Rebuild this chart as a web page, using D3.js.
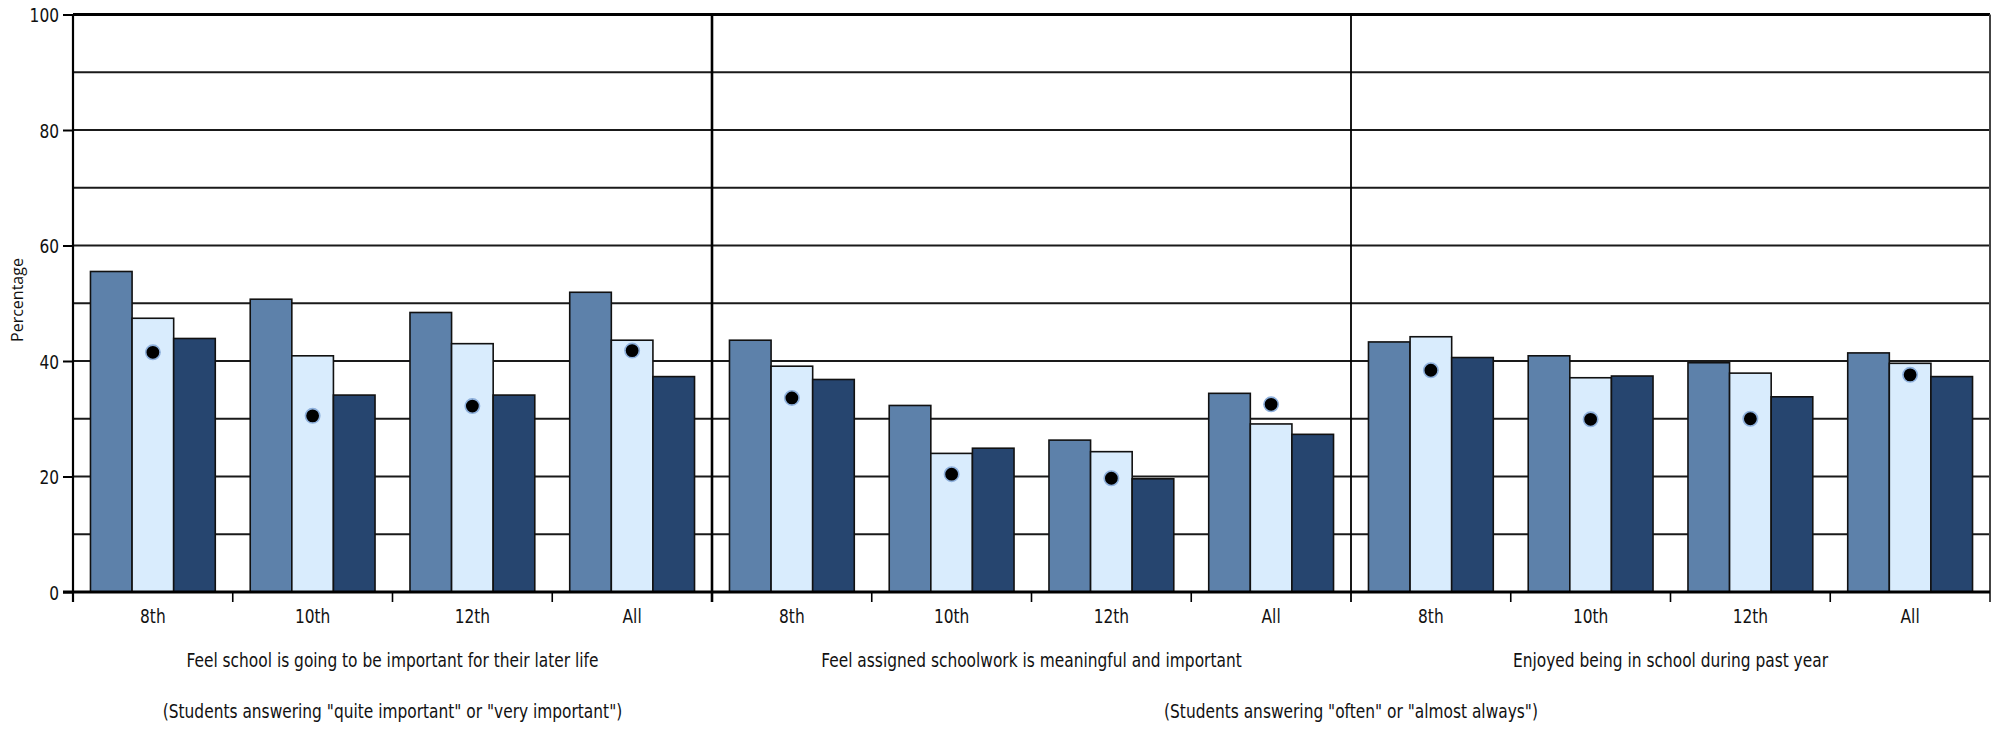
<!DOCTYPE html>
<html>
<head>
<meta charset="utf-8">
<script src="https://cdn.jsdelivr.net/npm/d3@7"></script>
<style>
  html, body { margin: 0; padding: 0; background: #fff; }
  svg { display: block; }
  .cond { font-family: "Liberation Sans Narrow", "DejaVu Sans Condensed", sans-serif; fill: #111; }
</style>
</head>
<body>
<svg id="chart" width="1999" height="731"></svg>
<script>
// ---- Data ----
const grades = ["8th", "10th", "12th", "All"];
const panelTitles = [
  "Feel school is going to be important for their later life",
  "Feel assigned schoolwork is meaningful and important",
  "Enjoyed being in school during past year"
];
const seriesNames = ["s1", "s2", "s3"];
const series1 = [55.5, 50.7, 48.4, 51.9, 43.6, 32.3, 26.3, 34.4, 43.3, 40.9, 39.7, 41.4];
const series2 = [47.4, 40.9, 43.0, 43.6, 39.1, 24.0, 24.3, 29.1, 44.2, 37.1, 37.9, 39.6];
const series3 = [43.9, 34.1, 34.1, 37.3, 36.8, 24.9, 19.6, 27.3, 40.6, 37.4, 33.8, 37.3];
const dotValues = [41.5, 30.5, 32.2, 41.8, 33.6, 20.4, 19.7, 32.5, 38.4, 29.9, 30.0, 37.6];
const yTickLabels = [0, 20, 40, 60, 80, 100];
const gridValues = [10, 20, 30, 40, 50, 60, 70, 80, 90];
const subtitle1 = '(Students answering "quite important" or "very important")';
const subtitle2 = '(Students answering "often" or "almost always")';
const yLabel = "Percentage";

(function () {
// ---- Layout ----
const mLeft = 73, mRight = 1990, mTop = 14.5, mBottom = 592;
const colors = { s1: "#5d81aa", s2: "#d9ecfd", s3: "#26456f" };
const fs = 20;

const svg = d3.select("#chart");

const groupKeys = [];
panelTitles.forEach((p, pi) => grades.forEach((g, gi) => groupKeys.push(pi + "-" + g)));

const x0 = d3.scaleBand().domain(groupKeys).range([mLeft, mRight]).padding(0);
const x1 = d3.scaleBand().domain(seriesNames).range([0, x0.bandwidth()]).paddingInner(0).paddingOuter(0.42);
const y = d3.scaleLinear().domain([0, 100]).range([mBottom, mTop]);

const panelX = d3.scaleBand().domain(panelTitles).range([mLeft, mRight]).padding(0);

// gridlines
svg.append("g").selectAll("line").data(gridValues).join("line")
  .attr("x1", mLeft).attr("x2", mRight)
  .attr("y1", d => y(d)).attr("y2", d => y(d))
  .attr("stroke", "#1a1a1a").attr("stroke-width", 2);

// top line
svg.append("line").attr("x1", mLeft).attr("x2", mRight)
  .attr("y1", y(100)).attr("y2", y(100))
  .attr("stroke", "#000").attr("stroke-width", 3);

// right border
svg.append("line").attr("x1", mRight).attr("x2", mRight)
  .attr("y1", y(100)).attr("y2", y(0) + 10)
  .attr("stroke", "#444").attr("stroke-width", 2);

// panel dividers
svg.append("g").selectAll("line").data(panelTitles.slice(1)).join("line")
  .attr("x1", d => panelX(d)).attr("x2", d => panelX(d))
  .attr("y1", y(100)).attr("y2", y(0) + 10)
  .attr("stroke", "#000").attr("stroke-width", (d, i) => i === 0 ? 2.6 : 1.8);

// bars
const allSeries = [series1, series2, series3];
const barData = [];
groupKeys.forEach((k, i) => {
  seriesNames.forEach((s, si) => barData.push({ key: k, s, v: allSeries[si][i] }));
});
svg.append("g").selectAll("rect").data(barData).join("rect")
  .attr("x", d => x0(d.key) + x1(d.s))
  .attr("width", x1.bandwidth())
  .attr("y", d => y(d.v))
  .attr("height", d => y(0) - y(d.v))
  .attr("fill", d => colors[d.s])
  .attr("stroke", "#111").attr("stroke-width", 1.6);

// dots
svg.append("g").selectAll("circle").data(groupKeys).join("circle")
  .attr("cx", d => x0(d) + x1("s2") + x1.bandwidth() / 2)
  .attr("cy", (d, i) => y(dotValues[i]))
  .attr("r", 7.2)
  .attr("fill", "#000")
  .attr("stroke", "#8eb0dc").attr("stroke-width", 1.6);

// y axis
const yAxis = d3.axisLeft(y).tickValues(yTickLabels).tickSize(10).tickPadding(4).tickFormat(d3.format("d"));
const yg = svg.append("g").attr("transform", `translate(${mLeft},0)`).call(yAxis);
yg.select(".domain").attr("stroke", "#000").attr("stroke-width", 2.2).attr("d", `M0,${y(100)}V${y(0)+10}`);
yg.selectAll(".tick line").attr("stroke", "#000").attr("stroke-width", 2);
yg.selectAll(".tick text").attr("class", "cond").attr("font-size", fs).attr("dy", "0.36em");

// x axis (bottom line + group ticks)
svg.append("line").attr("x1", mLeft - 10).attr("x2", mRight)
  .attr("y1", y(0)).attr("y2", y(0))
  .attr("stroke", "#000").attr("stroke-width", 3);
svg.append("g").selectAll("line").data(groupKeys.slice(1).filter((k, i) => (i + 1) % 4 !== 0)).join("line")
  .attr("x1", d => x0(d)).attr("x2", d => x0(d))
  .attr("y1", y(0)).attr("y2", y(0) + 10)
  .attr("stroke", "#000").attr("stroke-width", 1.6);

// grade labels
svg.append("g").selectAll("text").data(groupKeys).join("text")
  .attr("class", "cond")
  .attr("x", d => x0(d) + x0.bandwidth() / 2)
  .attr("y", 623)
  .attr("text-anchor", "middle")
  .attr("font-size", fs)
  .text(d => d.split("-")[1]);

// panel titles
const titles = svg.append("g").selectAll("text").data(panelTitles).join("text")
  .attr("class", "cond")
  .attr("x", d => panelX(d) + panelX.bandwidth() / 2)
  .attr("y", 667)
  .attr("text-anchor", "middle")
  .attr("font-size", fs)
  .text(d => d);

// subtitles
svg.append("text").attr("class", "cond")
  .attr("x", panelX(panelTitles[0]) + panelX.bandwidth() / 2)
  .attr("y", 718).attr("text-anchor", "middle").attr("font-size", fs)
  .text(subtitle1);
svg.append("text").attr("class", "cond")
  .attr("x", panelX(panelTitles[1]) + panelX.bandwidth())
  .attr("y", 718).attr("text-anchor", "middle").attr("font-size", fs)
  .text(subtitle2);

// condense text horizontally to mimic the condensed face of the original
const firstW = titles.node().getComputedTextLength();
const k = Math.min(1, 412 / firstW);
svg.selectAll("text.cond").each(function () {
  const w = this.getComputedTextLength();
  d3.select(this).attr("textLength", w * k).attr("lengthAdjust", "spacingAndGlyphs");
});

// y label
svg.append("text")
  .attr("transform", `translate(23,300) rotate(-90)`)
  .attr("text-anchor", "middle")
  .attr("font-family", "'Open Sans', sans-serif")
  .attr("font-size", 16)
  .attr("fill", "#111")
  .text(yLabel);
})();
</script>
</body>
</html>
